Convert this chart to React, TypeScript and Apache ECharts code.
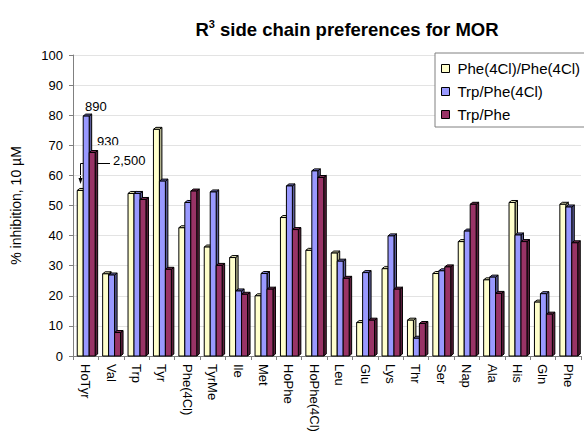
import React, { useEffect, useRef } from 'react';
import * as echarts from 'echarts';

const categories = ['HoTyr', 'Val', 'Trp', 'Tyr', 'Phe(4Cl)', 'TyrMe', 'Ile', 'Met', 'HoPhe', 'HoPhe(4Cl)', 'Leu', 'Glu', 'Lys', 'Thr', 'Ser', 'Nap', 'Ala', 'His', 'Gln', 'Phe'];
const phe4clPhe4cl = [55, 27.3, 54, 75.3, 42.6, 36.2, 32.7, 20, 46, 35.1, 34.2, 11.1, 29, 11.9, 27.4, 38, 25.3, 51, 17.9, 50.4];
const trpPhe4cl = [79.7, 26.9, 54, 58.1, 51, 54.5, 21.6, 27.4, 56.5, 61.5, 31.5, 27.7, 39.9, 5.9, 28.3, 41.5, 26.2, 40.2, 20.7, 49.5];
const trpPhe = [67.6, 7.8, 52, 28.8, 54.8, 30.1, 20.5, 22.2, 42, 59.3, 25.8, 11.9, 22.2, 10.8, 29.6, 50.4, 20.8, 38, 13.9, 37.6];
const seriesNames = ['Phe(4Cl)/Phe(4Cl)', 'Trp/Phe(4Cl)', 'Trp/Phe'];
const seriesValues = [phe4clPhe4cl, trpPhe4cl, trpPhe];
const frontColors = ['#FFFFCC', '#9999FF', '#993366'];
const sideColors = ['#B3B38F', '#5C5C99', '#5C1F3D'];
const topColors = ['#E6E6B8', '#7A7ACC', '#7A2952'];
const annotations = ['890', '930', '2,500'];

const FONT = '"Liberation Sans", Arial, sans-serif';

const makeRender = (si: number) => (params: any, api: any) => {
  const ci = api.value(0);
  const v = api.value(1);
  const p = api.coord([ci, v]);
  const b = api.coord([ci, 0]);
  const band = api.size([1, 0])[0];
  const bw = band * 0.235;
  const x0 = p[0] - 1.5 * bw + si * bw + 0.5;
  const x1 = x0 + bw;
  const yt = p[1];
  const yb = b[1];
  const dx = 2.5;
  const dy = -2;
  return {
    type: 'group',
    children: [
      {
        type: 'polygon',
        shape: { points: [[x1, yt], [x1 + dx, yt + dy], [x1 + dx, yb + dy], [x1, yb]] },
        style: { fill: sideColors[si], stroke: '#000', lineWidth: 1 },
      },
      {
        type: 'polygon',
        shape: { points: [[x0, yt], [x0 + dx, yt + dy], [x1 + dx, yt + dy], [x1, yt]] },
        style: { fill: topColors[si], stroke: '#000', lineWidth: 1 },
      },
      {
        type: 'rect',
        shape: { x: x0, y: yt, width: bw, height: yb - yt },
        style: { fill: frontColors[si], stroke: '#000', lineWidth: 1 },
      },
    ],
  };
};

export default function App() {
  const ref = useRef<HTMLDivElement>(null);
  useEffect(() => {
    if (!ref.current) return;
    const chart = echarts.init(ref.current, undefined, { renderer: 'svg' });
    chart.setOption({
      animation: false,
      backgroundColor: '#fff',
      textStyle: { fontFamily: FONT },
      title: {
        text: '{b|R}{s|3}{b| side chain preferences for MOR}',
        left: 342,
        top: 13,
        textAlign: 'center',
        textStyle: {
          rich: {
            b: { fontFamily: FONT, fontWeight: 'bold', fontSize: 18.5, color: '#000' },
            s: { fontFamily: FONT, fontWeight: 'bold', fontSize: 11, color: '#000', padding: [0, 0, 11, 0] },
          },
        },
      },
      legend: {
        orient: 'vertical',
        left: 435,
        top: 53,
        backgroundColor: '#fff',
        borderColor: '#808080',
        borderWidth: 1,
        borderRadius: 0,
        padding: [8, 20, 5, 6],
        itemGap: 8,
        itemWidth: 8,
        itemHeight: 8,
        icon: 'rect',
        itemStyle: { borderColor: '#000', borderWidth: 1 },
        textStyle: { fontFamily: FONT, fontSize: 15, color: '#000', padding: [0, 0, 0, 3] },
        data: seriesNames,
      },
      grid: { left: 73, right: 3, top: 55, bottom: 75, outerBoundsMode: 'none', containLabel: false },
      xAxis: {
        type: 'category',
        data: categories,
        axisLine: { lineStyle: { color: '#808080' } },
        axisTick: { show: true, length: 4, lineStyle: { color: '#808080' } },
        axisLabel: { rotate: -90, interval: 0, fontFamily: FONT, fontSize: 13, color: '#000', margin: 8 },
      },
      yAxis: {
        type: 'value',
        min: 0,
        max: 100,
        interval: 10,
        name: '% inhibition, 10 µM',
        nameLocation: 'middle',
        nameGap: 50,
        nameTextStyle: { fontFamily: FONT, fontSize: 14, color: '#000' },
        axisLine: { show: true, lineStyle: { color: '#808080' } },
        axisTick: { show: true, length: 4, lineStyle: { color: '#808080' } },
        axisLabel: { fontFamily: FONT, fontSize: 13, color: '#000', margin: 10 },
        splitLine: { lineStyle: { color: '#E3E3E3' } },
      },
      series: seriesNames.map((name, si) => ({
        name,
        type: 'custom',
        renderItem: makeRender(si),
        itemStyle: { color: frontColors[si], borderColor: '#000', borderWidth: 1 },
        encode: { x: 0, y: 1 },
        data: seriesValues[si].map((v, i) => [i, v]),
        z: 2,
      })),
      graphic: [
        { type: 'text', x: 85, y: 100, style: { text: annotations[0], font: `13px ${FONT}`, fill: '#000' } },
        { type: 'text', x: 97, y: 135, style: { text: annotations[1], font: `13px ${FONT}`, fill: '#000' } },
        { type: 'text', x: 113, y: 154, style: { text: annotations[2], font: `13px ${FONT}`, fill: '#000' } },
        { type: 'polyline', shape: { points: [[110, 163.5], [80.5, 163.5], [80.5, 179]] }, style: { stroke: '#000', lineWidth: 1, fill: 'none' } },
        { type: 'polygon', shape: { points: [[78.5, 178], [82.5, 178], [80.5, 184]] }, style: { fill: '#000' } },
      ],
    });
    return () => chart.dispose();
  }, []);
  return <div ref={ref} style={{ width: 584, height: 431, position: 'absolute', left: 0, top: 0 }} />;
}
